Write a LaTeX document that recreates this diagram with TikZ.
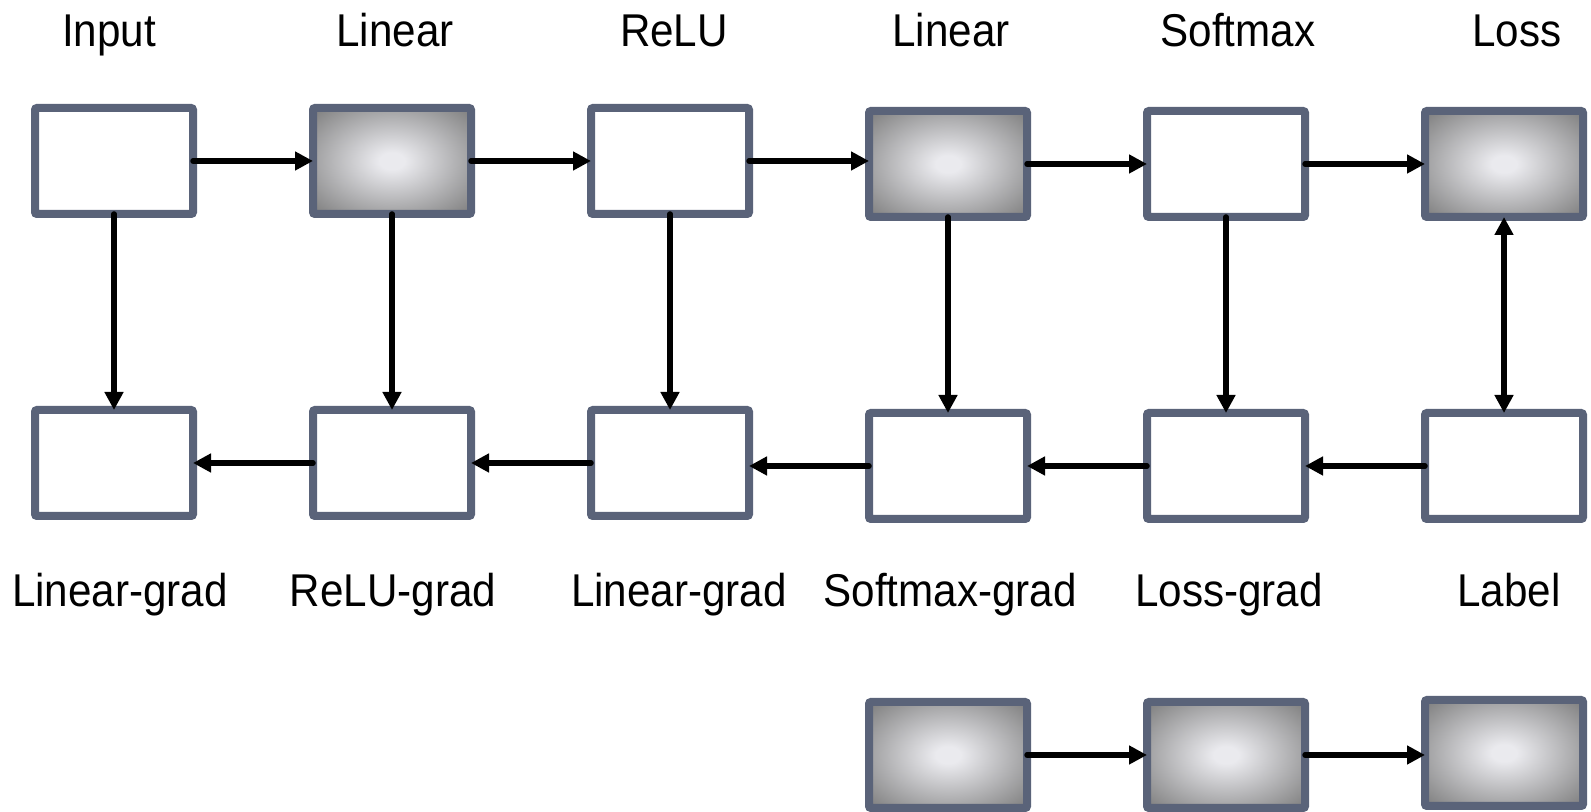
\documentclass[tikz,border=0pt]{standalone}
\usepackage{fontspec}
\setmainfont{Liberation Sans}
\usepackage{tikz}
\usetikzlibrary{positioning}
\usetikzlibrary{arrows.meta}

\definecolor{rimgray}{RGB}{90,99,121}
\definecolor{glowin}{RGB}{234,234,238}
\definecolor{glowout}{RGB}{122,122,122}

% light spot in the middle, dark towards the corners
\pgfdeclareradialshading{boxglow}{\pgfpoint{0bp}{0bp}}{%
  color(0bp)=(glowin); color(4bp)=(glowin); color(36bp)=(glowout); color(50bp)=(glowout)}

\begin{document}
\begin{tikzpicture}[
    blk/.style={rectangle, draw=rimgray, line width=0.08cm, rounded corners=0.02cm,
        fill=white, outer sep=0pt, inner sep=0pt, minimum width=1.58cm, minimum height=1.06cm},
    glow/.style={blk, shading=boxglow},
    lbl/.style={inner sep=0pt, font=\fontsize{12}{14}\selectfont, yscale=1.09, transform shape},
    flow/.style={line width=0.055cm, line cap=round, -{Triangle[length=0.18cm, width=0.18cm]}},
  ]

  \useasboundingbox (0,0) rectangle (15.91,8.12);

  % forward row
  \node [blk] (IN) at (1.14, 6.51) {};
  \node [glow, right=1.2cm of IN] (LIN1) {};
  \node [blk, right=1.2cm of LIN1] (RELU) {};
  \node [glow, right=1.2cm of RELU, yshift=-0.03cm] (LIN2) {};
  \node [blk, right=1.2cm of LIN2] (SMAX) {};
  \node [glow, right=1.2cm of SMAX] (LOSS) {};

  % backward row
  \node [blk, below=1.96cm of IN] (GIN) {};
  \node [blk, below=1.96cm of LIN1] (GLIN1) {};
  \node [blk, below=1.96cm of RELU] (GRELU) {};
  \node [blk, below=1.96cm of LIN2] (GLIN2) {};
  \node [blk, below=1.96cm of SMAX] (GSMAX) {};
  \node [blk, below=1.96cm of LOSS] (LABEL) {};

  % shaded chain at the bottom
  \node [glow, below=1.83cm of GLIN2] (P1) {};
  \node [glow, below=1.83cm of GSMAX] (P2) {};
  \node [glow, below=1.83cm of LABEL, yshift=0.02cm] (P3) {};

  \node [lbl, above=1.14cm of IN.center, anchor=base, xshift=-0.05cm] (TIN) {Input};
  \node [lbl, above=1.14cm of LIN1.center, anchor=base, xshift=0.03cm] (TLIN1) {Linear};
  \node [lbl, above=1.14cm of RELU.center, anchor=base, xshift=0.04cm] (TRELU) {ReLU};
  \node [lbl, above=1.17cm of LIN2.center, anchor=base, xshift=0.03cm] (TLIN2) {Linear};
  \node [lbl, above=1.17cm of SMAX.center, anchor=base, xshift=0.12cm] (TSMAX) {Softmax};
  \node [lbl, above=1.17cm of LOSS.center, anchor=base, xshift=0.13cm] (TLOSS) {Loss};

  \node [lbl, below=1.44cm of GIN.center, anchor=base, xshift=0.06cm] (TGIN) {Linear-grad};
  \node [lbl, below=1.44cm of GLIN1.center, anchor=base, xshift=0.01cm] (TGLIN1) {ReLU-grad};
  \node [lbl, below=1.44cm of GRELU.center, anchor=base, xshift=0.09cm] (TGRELU) {Linear-grad};
  \node [lbl, below=1.41cm of GLIN2.center, anchor=base, xshift=0.02cm] (TGLIN2) {Softmax-grad};
  \node [lbl, below=1.41cm of GSMAX.center, anchor=base, xshift=0.03cm] (TGSMAX) {Loss-grad};
  \node [lbl, below=1.41cm of LABEL.center, anchor=base, xshift=0.05cm] (TLABEL) {Label};

  \draw [flow] (IN) -- (LIN1 -| LIN1.west);
  \draw [flow] (LIN1) -- (RELU);
  \draw [flow] (RELU.east) -- (RELU.east -| LIN2.west);
  \draw [flow] (LIN2) -- (SMAX);
  \draw [flow] (SMAX) -- (LOSS);

  \draw [flow] (IN) -- (GIN);
  \draw [flow] (LIN1) -- (GLIN1);
  \draw [flow] (RELU) -- (GRELU);
  \draw [flow] (LIN2) -- (GLIN2);
  \draw [flow] (SMAX) -- (GSMAX);
  \draw [flow, {Triangle[length=0.18cm, width=0.18cm]}-{Triangle[length=0.18cm, width=0.18cm]}] (LABEL) -- (LOSS);

  \draw [flow] (LABEL) -- (GSMAX);
  \draw [flow] (GSMAX) -- (GLIN2);
  \draw [flow] (GLIN2.west) -- (GLIN2.west -| GRELU.east);
  \draw [flow] (GRELU) -- (GLIN1);
  \draw [flow] (GLIN1) -- (GIN);

  \draw [flow] (P1) -- (P2);
  \draw [flow] (P2.east) -- (P2.east -| P3.west);

\end{tikzpicture}
\end{document}
